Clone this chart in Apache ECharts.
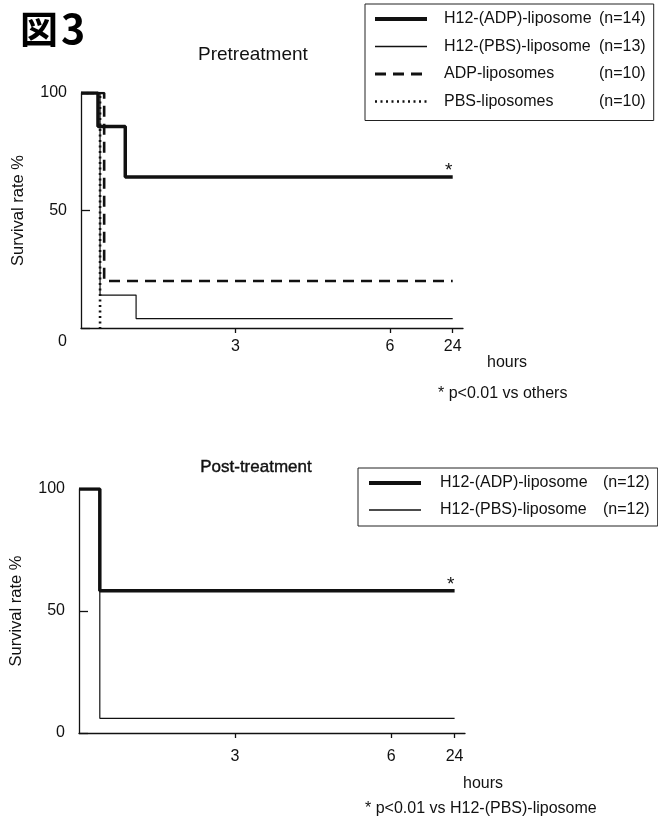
<!DOCTYPE html>
<html lang="ja">
  <head>
    <meta charset="UTF-8" />
    <title>図3</title>
    <script src="https://cdn.jsdelivr.net/npm/echarts@6/dist/echarts.min.js"></script>
    <style>
      html, body { margin: 0; padding: 0; background: #fff; }
    </style>
  </head>
  <body>
    <div id="main" style="width: 658px; height: 821px"></div>
    <script>
      // x ticks (hours); after 6 h the axis is broken, 24 h sits just past 6
      const tickHours = [3, 6, 24];
      const yTicks = [0, 50, 100];

      // Pretreatment (Kaplan-Meier steps: time in hours, survival %)
      const preAdpT = [0, 0.33, 0.86, 24];
      const preAdpV = [100, 85.7, 64.3, 64.3];
      const prePbsH12T = [0, 0.37, 1.07, 24];
      const prePbsH12V = [100, 14, 4, 4];
      const preAdpLipoT = [0, 0.45, 24];
      const preAdpLipoV = [100, 20, 20];
      const prePbsLipoT = [0, 0.37];
      const prePbsLipoV = [100, 0];
      const preN = [14, 13, 10, 10];

      // Post-treatment
      const postAdpT = [0, 0.4, 24];
      const postAdpV = [100, 58.3, 58.3];
      const postPbsT = [0, 0.4, 24];
      const postPbsV = [100, 6, 6];
      const postN = [12, 12];

      const names = ['H12-(ADP)-liposome', 'H12-(PBS)-liposome', 'ADP-liposomes', 'PBS-liposomes'];

      function toAxis(h) {
        return h <= 6 ? h : 6 + ((h - 6) * 1.22) / 18;
      }
      function pts(ts, vs) {
        return ts.map(function (t, i) { return [toAxis(t), vs[i]]; });
      }

      const font = 'Liberation Sans, Arial, sans-serif';
      const black = '#111';

      const styles = [
        { width: 3.5, type: 'solid' },
        { width: 1.2, type: 'solid' },
        { width: 2.6, type: [11, 7] },
        { width: 2.6, type: [2, 3.5] }
      ];
      const legendWidths = [4, 1.6, 2.8, 2.6];

      function xAxis(gridIndex, margin) {
        return {
          gridIndex: gridIndex,
          type: 'value',
          min: 0,
          max: 7.42,
          splitLine: { show: false },
          axisLine: { lineStyle: { color: black, width: 1.3 } },
          axisTick: {
            customValues: tickHours.map(toAxis),
            length: 5,
            lineStyle: { color: black, width: 1.3 }
          },
          axisLabel: {
            customValues: tickHours.map(toAxis),
            formatter: function (v) {
              return v > 6.5 ? '24' : String(Math.round(v));
            },
            color: black,
            fontSize: 16,
            fontFamily: font,
            margin: margin
          }
        };
      }

      function yAxis(gridIndex, lowZero) {
        return {
          gridIndex: gridIndex,
          type: 'value',
          min: 0,
          max: 100,
          splitLine: { show: false },
          name: 'Survival rate %',
          nameLocation: 'middle',
          nameGap: 54,
          nameTextStyle: { color: black, fontSize: 16.5, fontFamily: font },
          axisLine: { lineStyle: { color: black, width: 1.3 } },
          axisTick: {
            customValues: [0, 50],
            inside: true,
            length: 9,
            lineStyle: { color: black, width: 1.3 }
          },
          axisLabel: {
            customValues: yTicks,
            formatter: function (v) {
              return lowZero && v === 0 ? '{z|0}' : String(v);
            },
            rich: { z: { padding: [28, 0, 0, 0], fontSize: 16, fontFamily: font, color: black } },
            color: black,
            fontSize: 16,
            fontFamily: font,
            margin: 14
          }
        };
      }

      function star(t, v) {
        return {
          symbol: 'circle',
          symbolSize: 0,
          data: [{ coord: [toAxis(t), v] }],
          label: {
            show: true,
            formatter: '*',
            color: black,
            fontSize: 19,
            fontFamily: font,
            offset: [-4, -6]
          }
        };
      }

      function line(name, data, st, gi, mark) {
        const s = {
          name: name,
          type: 'line',
          xAxisIndex: gi,
          yAxisIndex: gi,
          step: 'end',
          symbol: 'none',
          data: data,
          lineStyle: { color: black, width: st.width, type: st.type },
          itemStyle: { color: black },
          emphasis: { disabled: true },
          animation: false
        };
        if (mark) s.markPoint = mark;
        return s;
      }

      function legendFmt(nList, list) {
        return function (name) {
          const n = nList[list.indexOf(name)];
          return '{s| }{a|' + name + '}{b|(n=' + n + ')}';
        };
      }

      function legendItems(list) {
        return list.map(function (name, i) {
          return {
            name: name,
            lineStyle: { width: legendWidths[i], type: styles[i].type, color: black }
          };
        });
      }

      function legendBox(list, nList, left, top, pad, gap, aWidth, sWidth) {
        return {
          data: legendItems(list),
          orient: 'vertical',
          left: left,
          top: top,
          padding: pad,
          itemGap: gap,
          itemWidth: 52,
          itemHeight: 17,
          borderColor: '#222',
          borderWidth: 1,
          backgroundColor: '#fff',
          itemStyle: { opacity: 0 },
          selectedMode: false,
          formatter: legendFmt(nList, list),
          textStyle: {
            color: black,
            fontSize: 16,
            fontFamily: font,
            rich: {
              s: { width: sWidth },
              a: { width: aWidth, fontSize: 16, fontFamily: font, color: black },
              b: { fontSize: 16, fontFamily: font, color: black }
            }
          }
        };
      }

      const chart = echarts.init(document.getElementById('main'));
      const option = {
        backgroundColor: '#fff',
        grid: [
          { left: 81, top: 93, width: 382, height: 235 },
          { left: 79, top: 489, width: 386, height: 244 }
        ],
        xAxis: [xAxis(0, 11), xAxis(1, 16)],
        yAxis: [yAxis(0, true), yAxis(1, false)],
        legend: [
          legendBox(names, preN, 365, 4, [7, 8, 11, 8], 11.5, 155, 12),
          legendBox(names.slice(0, 2), postN, 358, 468, [7, 8, 8, 9], 11, 163, 14)
        ],
        graphic: [
          {
            type: 'text', left: 20, top: 8,
            style: {
              text: '{k|図}{d|3}',
              rich: {
                k: { fontSize: 38, fontWeight: 'bold', fill: '#000', fontFamily: 'Noto Sans CJK JP, sans-serif' },
                d: { fontSize: 41, fontWeight: 'bold', fill: '#000', fontFamily: 'Noto Sans CJK JP, sans-serif', padding: [0, 0, 0, 3] }
              }
            }
          },
          {
            type: 'text', left: 198, top: 45,
            style: { text: 'Pretreatment', fontSize: 19, fill: black, fontFamily: font }
          },
          {
            type: 'text', left: 200, top: 459,
            style: { text: 'Post-treatment', fontSize: 17, fill: black, fontFamily: font, stroke: black, lineWidth: 0.4 }
          },
          {
            type: 'text', left: 487, top: 355,
            style: { text: 'hours', fontSize: 16, fill: black, fontFamily: font }
          },
          {
            type: 'text', left: 438, top: 386,
            style: { text: '* p<0.01 vs others', fontSize: 16, fill: black, fontFamily: font }
          },
          {
            type: 'text', left: 463, top: 776,
            style: { text: 'hours', fontSize: 16, fill: black, fontFamily: font }
          },
          {
            type: 'text', left: 365, top: 801,
            style: { text: '* p<0.01 vs H12-(PBS)-liposome', fontSize: 16, fill: black, fontFamily: font }
          }
        ],
        series: [
          line(names[0], pts(preAdpT, preAdpV), styles[0], 0, star(24, 64.3)),
          line(names[1], pts(prePbsH12T, prePbsH12V), styles[1], 0),
          line(names[2], pts(preAdpLipoT, preAdpLipoV), styles[2], 0),
          line(names[3], pts(prePbsLipoT, prePbsLipoV), styles[3], 0),
          line(names[0], pts(postAdpT, postAdpV), styles[0], 1, star(24, 58.3)),
          line(names[1], pts(postPbsT, postPbsV), styles[1], 1)
        ]
      };
      chart.setOption(option);
    </script>
  </body>
</html>
